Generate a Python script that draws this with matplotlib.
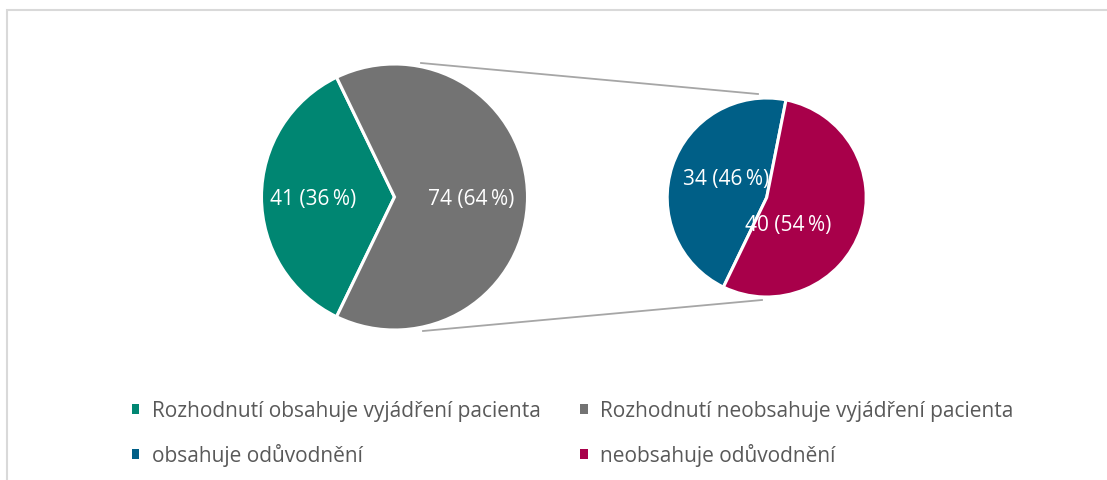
import matplotlib.pyplot as plt
from matplotlib.patches import Rectangle

# =========================
# DATA
# =========================
main_labels = ['Rozhodnutí obsahuje vyjádření pacienta',
               'Rozhodnutí neobsahuje vyjádření pacienta']
main_values = [41, 74]
sub_labels = ['obsahuje odůvodnění', 'neobsahuje odůvodnění']
sub_values = [34, 40]

main_colors = ['#008672', '#737373']
sub_colors = ['#005F87', '#A8004A']

plt.rcParams['font.family'] = ['Open Sans', 'DejaVu Sans']

W, H = 1107, 480
fig = plt.figure(figsize=(W / 100, H / 100), dpi=100)
ax = fig.add_axes([0, 0, 1, 1])


def fmt(vals):
    tot = sum(vals)
    return [f'{v} ({round(100 * v / tot)}\u2009%)' for v in vals]


# =========================
# MAIN PIE (pixel coords, y up)
# =========================
c1 = (394.5, H - 197)
r1 = 133
start1 = 180 - 0.5 * 360 * main_values[0] / sum(main_values)
w1, _ = ax.pie(main_values, center=c1, radius=r1, startangle=start1,
               colors=main_colors, counterclock=True,
               wedgeprops=dict(edgecolor='white', linewidth=2.2))

for (x, y), t in zip([(313, H - 199), (471, H - 199)], fmt(main_values)):
    ax.text(x, y, t, color='white', fontsize=15, ha='center', va='center')

# =========================
# SECOND PIE
# =========================
c2 = (766.7, H - 197.5)
r2 = 99.5
w2, _ = ax.pie(sub_values, center=c2, radius=r2, startangle=78.8,
               colors=sub_colors, counterclock=True,
               wedgeprops=dict(edgecolor='white', linewidth=2.2))

for (x, y), t in zip([(726, H - 179), (788, H - 225)], fmt(sub_values)):
    ax.text(x, y, t, color='white', fontsize=15, ha='center', va='center')

# connector lines
ax.plot([421, 758], [H - 63, H - 94], color='#A6A6A6', lw=1.3, zorder=0)
ax.plot([423, 762], [H - 331, H - 300], color='#A6A6A6', lw=1.3, zorder=0)

ax.set_xlim(0, W)
ax.set_ylim(0, H)
ax.set_aspect('auto')
ax.axis('off')

# =========================
# LEGEND
# =========================
handles = [w1[0], w2[0], w1[1], w2[1]]
labels = [main_labels[0], sub_labels[0], main_labels[1], sub_labels[1]]
leg = fig.legend(handles, labels, ncol=2, frameon=False,
                 loc='upper left', bbox_to_anchor=(113 / W, 1 - 382 / H),
                 fontsize=15, labelcolor='#595959',
                 handlelength=0.36, handleheight=0.36, handletextpad=0.6,
                 columnspacing=1.9, labelspacing=1.05)
for h in leg.legend_handles:
    h.set_edgecolor('none')

# frame
fig.patches.append(Rectangle((7, -10), W + 10, H - 0, transform=None,
                             fill=False, edgecolor='#D9D9D9', lw=1.5))

plt.savefig('out.png', dpi=100)
